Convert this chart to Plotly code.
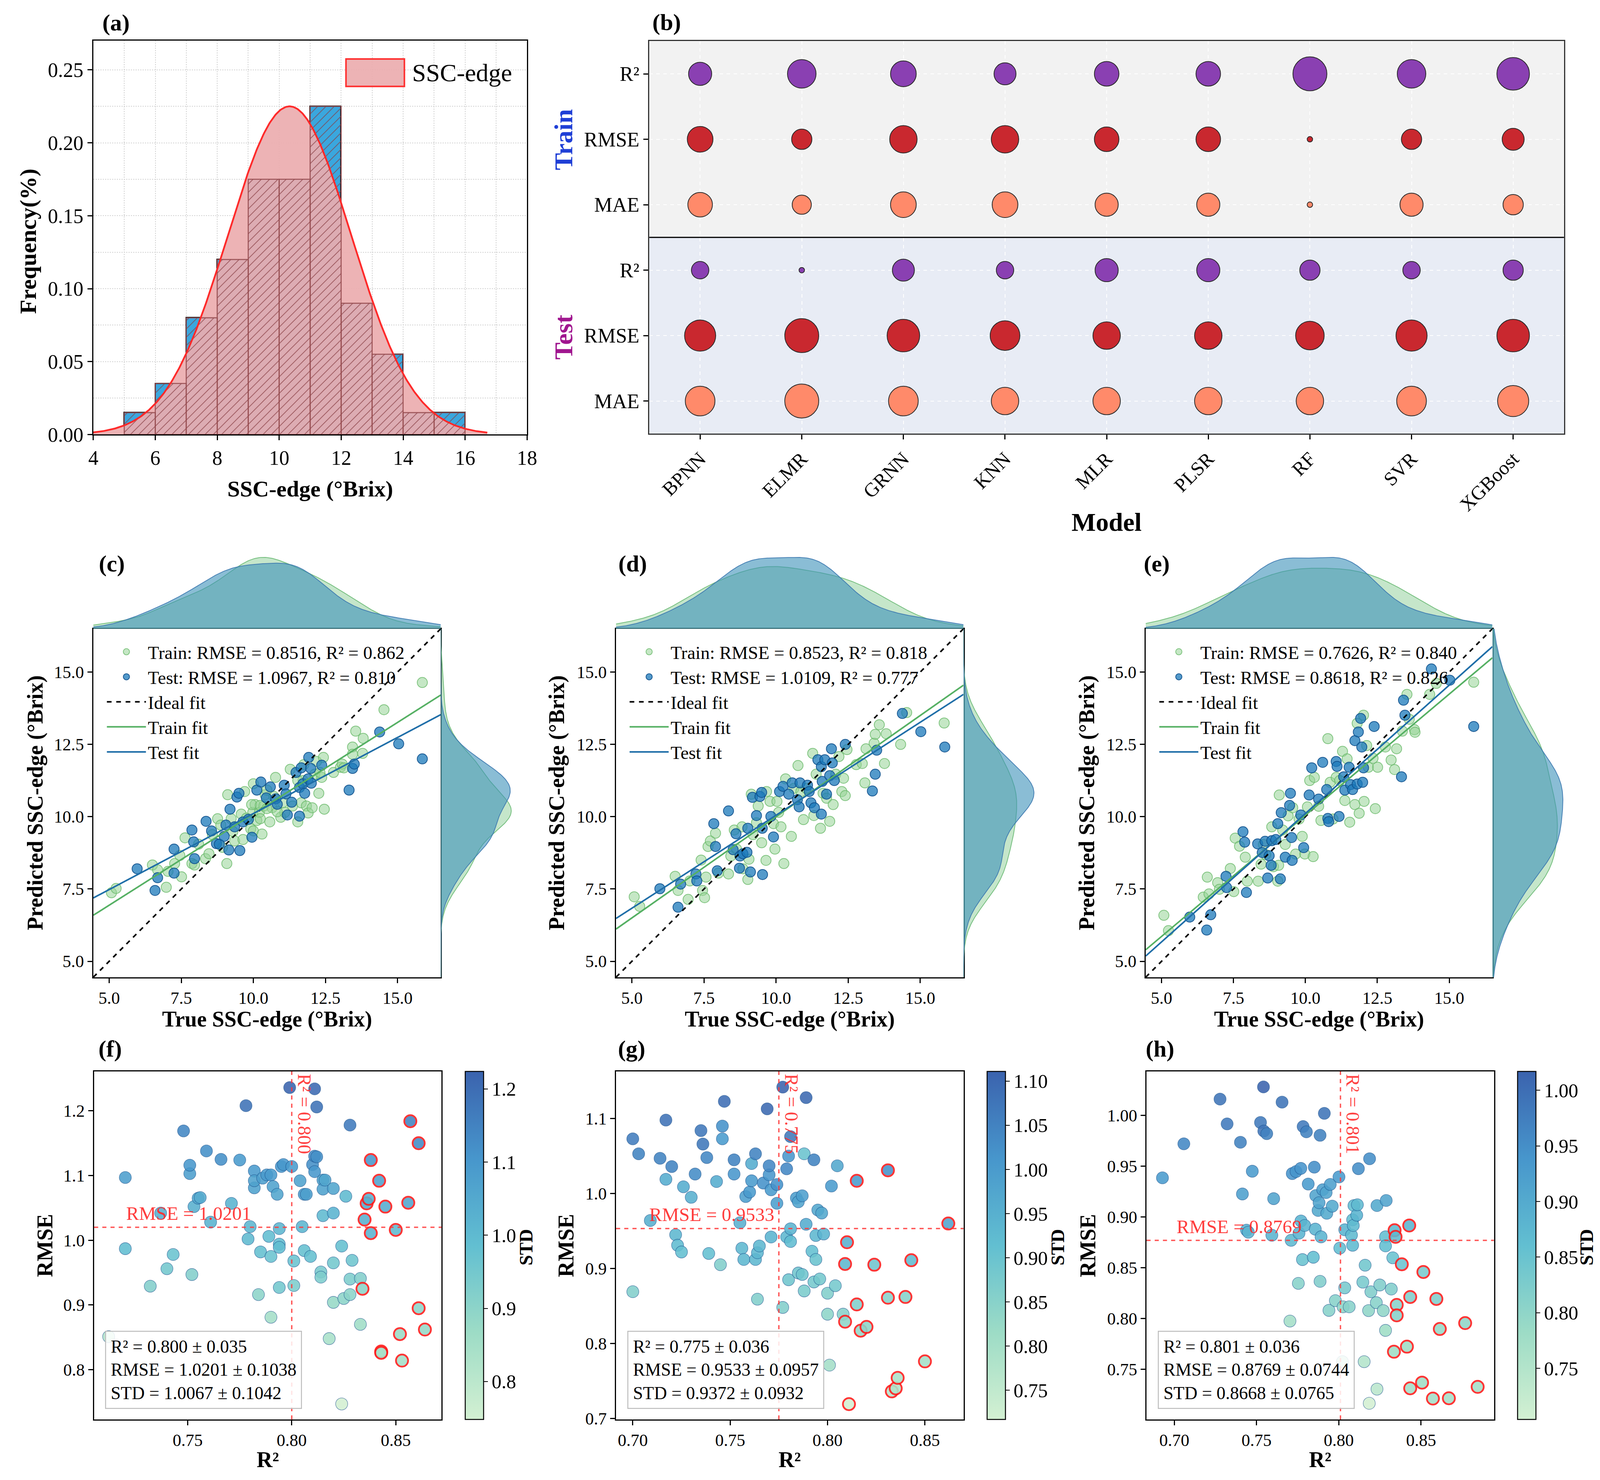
import numpy as np
import plotly.graph_objects as go

W, H = 4104, 3789
SERIF = "Liberation Serif"

# ---------------- (a) SSC-edge distribution ----------------
bin_left = [5, 6, 7, 8, 9, 10, 11, 12, 13, 14, 15]
bin_freq = [0.015, 0.035, 0.080, 0.120, 0.175, 0.175, 0.225, 0.090, 0.055, 0.015, 0.015]

# ---------------- (b) model comparison bubbles (scaled score 0-1) ----------------
models = ["BPNN", "ELMR", "GRNN", "KNN", "MLR", "PLSR", "RF", "SVR", "XGBoost"]
train_r2_score = [0.62, 0.81, 0.71, 0.58, 0.67, 0.67, 1.00, 0.81, 0.95]
train_rmse_score = [0.71, 0.52, 0.77, 0.77, 0.67, 0.67, 0.00, 0.52, 0.58]
train_mae_score = [0.67, 0.48, 0.71, 0.71, 0.62, 0.62, 0.00, 0.62, 0.52]
test_r2_score = [0.42, 0.00, 0.58, 0.42, 0.62, 0.62, 0.52, 0.42, 0.52]
test_rmse_score = [0.90, 1.00, 0.95, 0.85, 0.77, 0.77, 0.81, 0.90, 0.95]
test_mae_score = [0.85, 1.00, 0.85, 0.77, 0.77, 0.77, 0.77, 0.85, 0.90]

# ---------------- (c) true vs predicted ----------------
c_test_true = [5.97, 6.59, 6.68, 7.25, 7.25, 7.87, 7.93, 7.96, 8.36, 8.55, 8.72, 8.82, 8.99, 9.05, 9.15,
               9.19, 9.35, 9.43, 9.50, 9.53, 9.64, 9.83, 9.95, 10.12, 10.26, 10.45, 10.59, 10.78, 10.83,
               11.07, 11.13, 11.18, 11.33, 11.48, 11.60, 11.60, 11.66, 11.72, 11.78, 11.90, 11.92, 11.99,
               12.01, 12.37, 13.32, 13.44, 13.50, 14.38, 15.04, 15.86]
c_test_pred = [8.20, 7.45, 7.89, 8.88, 8.05, 9.54, 9.13, 8.55, 9.84, 9.51, 9.07, 9.05, 9.32, 9.71, 8.85,
               10.26, 9.65, 10.68, 10.81, 8.83, 9.82, 9.91, 9.29, 10.92, 11.20, 10.65, 11.03, 10.62, 10.43,
               11.09, 10.79, 10.06, 10.50, 11.53, 11.01, 10.02, 11.69, 11.14, 10.81, 11.31, 12.05, 11.67,
               11.16, 11.78, 10.92, 11.67, 11.82, 12.93, 12.52, 12.00]
c_train_true = [5.08, 5.24, 6.50, 6.68, 6.98, 7.04, 7.27, 7.45, 7.51, 7.63, 7.87, 7.96, 8.10, 8.34, 8.46,
                8.58, 8.76, 8.87, 8.93, 9.08, 9.11, 9.29, 9.35, 9.58, 9.64, 9.70, 9.76, 9.91, 9.98, 10.00,
                10.06, 10.12, 10.21, 10.24, 10.30, 10.36, 10.41, 10.57, 10.65, 10.71, 10.77, 10.95, 11.01,
                11.09, 11.28, 11.36, 11.54, 11.66, 11.72, 11.84, 11.90, 12.04, 12.13, 12.19, 12.27, 12.37,
                12.43, 12.46, 12.78, 13.02, 13.08, 13.14, 13.44, 13.44, 13.55, 13.79, 13.81, 14.53, 15.86,
                10.00, 11.75, 10.47, 9.23, 9.94, 10.24, 10.47, 10.83, 11.54, 12.31]
c_train_pred = [7.37, 7.52, 8.33, 8.16, 7.56, 8.11, 8.38, 8.66, 7.92, 9.27, 8.38, 8.33, 9.05, 8.55, 8.72,
                9.38, 9.93, 9.71, 8.94, 8.38, 10.76, 9.49, 9.16, 10.09, 9.21, 10.87, 9.95, 9.58, 10.15, 9.51,
                10.42, 9.87, 10.15, 9.93, 9.40, 10.37, 10.76, 9.82, 10.31, 10.70, 11.36, 9.98, 10.48,
                10.15, 11.64, 10.37, 9.82, 10.48, 11.25, 10.37, 10.13, 10.31, 11.47, 11.91, 10.81, 11.36,
                12.05, 10.26, 11.53, 11.71, 11.82, 11.69, 12.41, 12.16, 12.96, 12.19, 12.71, 13.70, 14.64,
                11.14, 11.80, 10.92, 9.93, 10.42, 10.39, 10.28, 10.17, 11.25, 11.53]
c_train_fit = [0.632, 3.78]   # slope, intercept
c_test_fit = [0.526, 4.85]

# ---------------- (d) ----------------
d_test_true = [5.97, 6.60, 6.69, 7.22, 7.25, 7.84, 7.90, 7.96, 8.35, 8.51, 8.61, 8.73, 8.75, 8.85, 8.99,
               9.02, 9.11, 9.18, 9.32, 9.44, 9.50, 9.52, 9.53, 9.82, 9.91, 10.12, 10.24, 10.44, 10.56,
               10.74, 10.80, 10.83, 11.09, 11.15, 11.21, 11.33, 11.45, 11.57, 11.60, 11.57, 11.69, 11.75,
               11.86, 11.92, 11.95, 12.02, 12.40, 13.34, 13.44, 13.49, 14.38, 15.02, 15.85]
d_test_pred = [7.51, 6.87, 7.67, 8.02, 7.78, 9.76, 8.97, 8.13, 10.20, 8.86, 9.41, 8.22, 8.64, 8.72, 8.77,
               9.60, 8.09, 10.67, 10.04, 10.70, 10.84, 9.60, 8.00, 10.01, 9.30, 10.87, 11.05, 10.78, 11.17,
               10.59, 10.34, 11.17, 11.09, 10.87, 10.48, 10.31, 11.97, 11.73, 11.22, 10.09, 11.97, 10.78,
               11.42, 12.35, 11.86, 11.25, 12.50, 10.89, 11.47, 12.30, 13.57, 12.94, 12.41]
d_train_true = [5.08, 5.27, 6.50, 6.60, 6.95, 7.01, 7.40, 7.45, 7.52, 7.57, 7.64, 7.72, 7.90, 8.00, 8.35,
                8.43, 8.55, 8.63, 8.82, 8.85, 9.02, 9.06, 9.14, 9.20, 9.32, 9.38, 9.50, 9.65, 9.67, 9.79,
                9.91, 9.96, 10.03, 10.09, 10.17, 10.27, 10.33, 10.53, 10.62, 10.76, 10.86, 10.95, 11.04,
                11.27, 11.31, 11.39, 11.54, 11.63, 11.75, 11.86, 11.98, 12.07, 12.18, 12.28, 12.34, 12.40,
                12.46, 12.78, 12.99, 13.08, 13.12, 13.40, 13.44, 13.58, 13.76, 13.82, 14.32, 14.53, 15.83]
d_train_pred = [7.23, 6.90, 7.94, 7.45, 7.14, 7.78, 8.50, 7.45, 7.20, 7.91, 8.97, 9.16, 9.43, 8.05, 8.02,
                8.64, 9.54, 8.88, 9.65, 8.20, 7.83, 8.53, 10.78, 9.38, 9.79, 10.37, 9.10, 8.49, 10.87, 10.53,
                9.76, 8.88, 10.53, 10.15, 9.65, 8.38, 11.31, 9.32, 10.98, 11.77, 10.87, 9.90, 10.98, 12.19,
                10.04, 11.47, 9.60, 10.81, 10.64, 9.84, 10.42, 11.47, 12.08, 10.87, 11.33, 10.73, 12.32,
                11.80, 11.84, 11.17, 12.35, 12.54, 12.85, 13.18, 11.84, 12.87, 12.50, 13.60, 13.24]
d_train_fit = [0.700, 3.00]
d_test_fit = [0.643, 3.62]

# ---------------- (e) ----------------
e_test_true = [5.98, 6.57, 6.71, 7.24, 7.26, 7.83, 7.89, 7.95, 8.34, 8.50, 8.60, 8.69, 8.74, 8.81, 8.83,
               8.97, 9.04, 9.13, 9.16, 9.30, 9.45, 9.48, 9.52, 9.54, 9.84, 9.94, 10.13, 10.22, 10.46, 10.60,
               10.74, 10.78, 10.81, 11.07, 11.10, 11.17, 11.33, 11.37, 11.52, 11.57, 11.64, 11.72, 11.80,
               11.84, 11.92, 11.96, 11.99, 12.02, 12.39, 13.34, 13.41, 13.46, 14.38, 15.02, 15.85]
e_test_pred = [6.53, 6.08, 6.61, 7.94, 7.55, 9.48, 9.12, 7.38, 9.06, 8.76, 9.15, 7.88, 8.65, 8.32, 9.17,
               9.21, 9.76, 7.85, 10.14, 8.60, 10.39, 10.81, 9.28, 8.49, 10.06, 8.93, 10.75, 11.69, 10.61,
               11.88, 10.94, 9.94, 9.83, 11.91, 11.74, 10.01, 11.38, 10.92, 11.71, 11.11, 10.94, 12.63,
               11.13, 12.93, 13.40, 12.41, 11.19, 11.69, 13.12, 11.38, 14.03, 13.51, 15.11, 14.72, 13.12]
e_train_true = [5.08, 5.24, 6.45, 6.59, 6.65, 6.95, 7.01, 7.39, 7.51, 7.56, 7.71, 7.91, 7.98, 8.36, 8.46,
                8.54, 8.62, 8.83, 8.89, 9.04, 9.07, 9.09, 9.21, 9.30, 9.40, 9.56, 9.66, 9.78, 9.89, 9.98,
                10.07, 10.15, 10.27, 10.31, 10.46, 10.54, 10.78, 10.86, 10.96, 11.07, 11.19, 11.29, 11.37,
                11.45, 11.54, 11.72, 11.80, 11.87, 12.02, 12.04, 12.13, 12.19, 12.35, 12.43, 12.51, 12.78,
                12.98, 13.10, 13.17, 13.37, 13.53, 13.61, 13.79, 13.81, 14.32, 14.55, 15.85]
e_train_pred = [6.59, 6.06, 7.22, 7.91, 7.33, 7.72, 7.49, 8.21, 7.41, 9.26, 8.98, 8.60, 7.77, 7.77, 8.36,
                9.04, 8.69, 9.65, 8.27, 7.77, 8.32, 10.75, 9.54, 9.04, 10.03, 10.31, 8.71, 9.92, 9.32, 8.71,
                10.34, 11.25, 8.62, 11.36, 10.36, 9.87, 12.70, 11.19, 9.92, 11.36, 11.25, 12.26, 10.56,
                12.00, 9.81, 10.42, 13.23, 10.12, 13.51, 10.53, 12.46, 11.71, 12.02, 10.28, 11.71, 12.41,
                11.96, 11.63, 12.35, 12.96, 14.23, 13.37, 13.01, 12.92, 14.23, 14.61, 14.65]
e_train_fit = [0.838, 1.67]
e_test_fit = [0.888, 1.23]

# ---------------- (f) repeated-split results ----------------
f_r2 = [0.712, 0.720, 0.720, 0.732, 0.737, 0.740, 0.743, 0.748, 0.751, 0.751, 0.752, 0.753, 0.755, 0.756,
        0.759, 0.761, 0.766, 0.771, 0.775, 0.778, 0.779, 0.780, 0.782, 0.782, 0.782, 0.784, 0.785, 0.786,
        0.788, 0.789, 0.790, 0.790, 0.790, 0.791, 0.793, 0.794, 0.794, 0.794, 0.794, 0.795, 0.796, 0.799,
        0.800, 0.801, 0.801, 0.804, 0.805, 0.806, 0.807, 0.806, 0.809, 0.810, 0.811, 0.811, 0.811, 0.812,
        0.812, 0.814, 0.814, 0.815, 0.815, 0.815, 0.816, 0.818, 0.820, 0.820, 0.820, 0.820, 0.824, 0.824,
        0.825, 0.826, 0.828, 0.828, 0.828, 0.829, 0.833, 0.833,
        0.834, 0.835, 0.836, 0.837, 0.838, 0.838, 0.842, 0.843, 0.843, 0.845, 0.850, 0.852, 0.853, 0.856,
        0.857, 0.861, 0.861, 0.864]
f_rmse = [0.851, 1.097, 0.987, 0.929, 1.042, 0.956, 0.978, 1.169, 1.103, 1.116, 0.947, 1.052, 1.065, 1.066,
          1.138, 1.028, 1.125, 1.057, 1.124, 1.208, 1.002, 1.021, 1.081, 1.107, 1.092, 0.916, 0.982, 1.096,
          1.101, 1.006, 0.975, 1.101, 0.881, 1.083, 1.071, 0.994, 0.927, 0.989, 1.018, 1.114, 1.117, 1.236,
          1.114, 0.968, 0.930, 1.092, 1.021, 1.071, 1.071, 0.984, 0.975, 1.117, 1.234, 1.130, 1.106, 1.129,
          1.206, 0.951, 0.943, 1.093, 1.079, 1.038, 1.093, 0.848, 1.080, 1.042, 0.965, 0.904, 0.747, 0.991,
          0.910, 1.068, 1.178, 0.916, 0.940, 0.969, 0.941, 0.870,
          0.925, 1.032, 1.057, 1.064, 1.011, 1.124, 1.092, 0.828, 0.826, 1.052, 1.016, 0.855, 0.814, 1.058,
          1.184, 1.150, 0.895, 0.862]
f_std = [0.82, 1.08, 0.99, 0.92, 1.03, 0.95, 0.97, 1.14, 1.08, 1.10, 0.92, 1.03, 1.05, 1.04,
         1.12, 1.02, 1.12, 1.02, 1.09, 1.19, 1.00, 1.01, 1.07, 1.09, 1.07, 0.90, 0.98, 1.08,
         1.09, 0.99, 0.97, 1.09, 0.85, 1.07, 1.06, 0.99, 0.95, 0.99, 1.01, 1.10, 1.10, 1.224,
         1.09, 0.97, 0.93, 1.07, 1.01, 1.08, 1.08, 0.98, 0.98, 1.12, 1.21, 1.13, 1.10, 1.12,
         1.19, 0.94, 0.93, 1.06, 1.07, 1.00, 1.06, 0.84, 1.06, 1.02, 0.95, 0.88, 0.748, 0.98,
         0.90, 1.00, 1.17, 0.90, 0.93, 0.96, 0.92, 0.86,
         0.90, 1.03, 1.05, 1.03, 1.02, 1.10, 1.07, 0.85, 0.84, 1.04, 1.00, 0.87, 0.85, 1.06,
         1.15, 1.13, 0.90, 0.88]
f_stats = [0.800, 0.035, 1.0201, 0.1038, 1.0067, 0.1042]   # R2 mean/sd, RMSE mean/sd, STD mean/sd

# ---------------- (g) ----------------
g_r2 = [0.700, 0.703, 0.700, 0.709, 0.714, 0.717, 0.717, 0.720, 0.722, 0.723, 0.725, 0.726, 0.730, 0.732,
        0.735, 0.736, 0.738, 0.739, 0.743, 0.745, 0.746, 0.746, 0.747, 0.752, 0.752, 0.755, 0.756, 0.757,
        0.758, 0.760, 0.761, 0.761, 0.763, 0.763, 0.764, 0.764, 0.765, 0.767, 0.769, 0.770, 0.770, 0.771,
        0.771, 0.774, 0.774, 0.777, 0.777, 0.779, 0.779, 0.780, 0.780, 0.781, 0.781, 0.781, 0.784, 0.785,
        0.785, 0.787, 0.787, 0.788, 0.788, 0.789, 0.789, 0.793, 0.793, 0.792, 0.794, 0.794, 0.795, 0.796,
        0.797, 0.798, 0.800, 0.800, 0.801, 0.802, 0.804, 0.805, 0.808,
        0.809, 0.809, 0.810, 0.811, 0.815, 0.815, 0.817, 0.820, 0.824, 0.831, 0.831, 0.833, 0.835, 0.836,
        0.840, 0.843, 0.850, 0.862]
g_rmse = [1.073, 1.053, 0.869, 0.964, 1.047, 1.019, 1.098, 1.036, 0.945, 0.931, 0.922, 1.009, 0.995, 1.026,
          1.084, 1.066, 1.048, 0.920, 1.016, 0.905, 1.090, 1.073, 1.123, 1.045, 1.026, 0.961, 0.927, 0.912,
          0.996, 1.002, 1.040, 1.017, 1.053, 0.912, 0.921, 0.859, 0.930, 1.014, 1.113, 1.025, 1.037, 1.005,
          0.942, 1.012, 0.987, 1.142, 0.848, 1.033, 0.942, 0.885, 1.050, 0.936, 1.076, 0.953, 0.994, 0.989,
          0.894, 0.892, 0.997, 0.870, 1.053, 1.128, 0.959, 1.045, 0.882, 0.923, 0.944, 0.912, 0.978, 0.886,
          0.974, 0.946, 0.839, 0.867, 0.771, 1.010, 0.877, 1.037, 0.839,
          0.906, 0.829, 0.935, 0.719, 0.852, 1.017, 0.817, 0.822, 0.905, 0.861, 1.031, 0.736, 0.740, 0.754,
          0.862, 0.911, 0.776, 0.960]
g_std = [1.06, 1.05, 0.86, 0.95, 1.05, 0.96, 1.08, 1.05, 0.93, 0.92, 0.91, 0.96, 0.95, 1.03,
         1.07, 1.07, 1.04, 0.91, 0.96, 0.86, 1.02, 1.00, 1.09, 1.05, 1.01, 0.95, 0.93, 0.93,
         0.99, 1.00, 0.96, 1.00, 1.05, 0.93, 0.93, 0.86, 0.93, 1.02, 1.10, 1.01, 1.04, 1.00,
         0.94, 1.02, 0.99, 1.111, 0.86, 1.04, 0.93, 0.89, 1.01, 0.92, 1.07, 0.94, 0.99, 0.98,
         0.89, 0.89, 0.99, 0.87, 0.90, 1.10, 0.96, 1.05, 0.88, 0.91, 0.93, 0.90, 0.97, 0.88,
         0.97, 0.94, 0.84, 0.86, 0.80, 1.00, 0.88, 0.97, 0.85,
         0.93, 0.84, 0.95, 0.717, 0.86, 1.00, 0.83, 0.84, 0.89, 0.85, 1.02, 0.77, 0.78, 0.79,
         0.85, 0.92, 0.80, 0.98]
g_stats = [0.775, 0.036, 0.9533, 0.0957, 0.9372, 0.0932]

# ---------------- (h) ----------------
h_r2 = [0.6928, 0.7058, 0.7278, 0.7321, 0.7402, 0.7414, 0.7439, 0.7450, 0.7474, 0.7524, 0.7542, 0.7544,
        0.7562, 0.7593, 0.7604, 0.7655, 0.7703, 0.7710, 0.7717, 0.7740, 0.7754, 0.7758, 0.7769, 0.7770,
        0.7779, 0.7783, 0.7793, 0.7803, 0.7814, 0.7845, 0.7851, 0.7857, 0.7860, 0.7874, 0.7880, 0.7886,
        0.7886, 0.7892, 0.7902, 0.7912, 0.7923, 0.7927, 0.7940, 0.7948, 0.7960, 0.7979, 0.8001, 0.8006,
        0.8022, 0.8026, 0.8036, 0.8036, 0.8063, 0.8077, 0.8084, 0.8084, 0.8088, 0.8092, 0.8109, 0.8113,
        0.8119, 0.8154, 0.8160, 0.8146, 0.8181, 0.8187, 0.8195, 0.8228, 0.8232, 0.8232, 0.8249, 0.8270,
        0.8284, 0.8284, 0.8284, 0.8288, 0.8319, 0.8328, 0.8185,
        0.8335, 0.8339, 0.8345, 0.8352, 0.8352, 0.8383, 0.8414, 0.8428, 0.8434, 0.8434, 0.8506, 0.8514,
        0.8572, 0.8593, 0.8614, 0.8669, 0.8768, 0.8844]
h_rmse = [0.9385, 0.9720, 1.0160, 0.9916, 0.9735, 0.9226, 0.8870, 0.8850, 0.9450, 0.9930, 1.0280, 0.9846,
          0.9820, 0.8820, 0.9180, 1.0130, 0.7975, 0.8770, 0.9427, 0.9447, 0.8346, 0.8840, 0.9478, 0.8960,
          0.8580, 0.9890, 0.8916, 0.9838, 0.9324, 0.8603, 0.9490, 0.8880, 0.9210, 0.9064, 0.9140, 0.9804,
          0.8366, 0.8804, 0.9268, 1.0020, 0.9240, 0.9036, 0.8080, 0.9320, 0.9106, 0.8176, 0.9394, 0.8693,
          0.7575, 0.8115, 0.8302, 0.8874, 0.8115, 0.8821, 0.8721, 0.8972, 0.8916, 0.9112, 0.9017, 0.9120,
          0.9475, 0.7575, 0.8525, 0.8358, 0.8078, 0.9573, 0.8263, 0.8156, 0.7305, 0.9112, 0.8330, 0.8078,
          0.7883, 0.8804, 0.8715, 0.9162, 0.8290, 0.8598, 0.7165,
          0.7673, 0.8869, 0.8804, 0.8134, 0.8031, 0.8534, 0.7723, 0.8916, 0.8212, 0.7313, 0.7369, 0.8458,
          0.7212, 0.8193, 0.7897, 0.7215, 0.7955, 0.7327]
h_std = [0.93, 0.96, 0.99, 0.98, 0.97, 0.92, 0.89, 0.88, 0.93, 0.98, 1.017, 0.99,
         0.97, 0.88, 0.91, 0.99, 0.77, 0.87, 0.94, 0.94, 0.81, 0.88, 0.94, 0.88,
         0.85, 0.98, 0.88, 0.97, 0.93, 0.86, 0.95, 0.88, 0.91, 0.90, 0.91, 0.97,
         0.82, 0.88, 0.92, 0.99, 0.91, 0.90, 0.81, 0.92, 0.90, 0.81, 0.93, 0.86,
         0.76, 0.80, 0.83, 0.88, 0.81, 0.87, 0.87, 0.86, 0.87, 0.86, 0.88, 0.87,
         0.95, 0.75, 0.84, 0.83, 0.80, 0.95, 0.82, 0.81, 0.74, 0.90, 0.82, 0.80,
         0.78, 0.86, 0.86, 0.91, 0.82, 0.85, 0.704,
         0.78, 0.87, 0.87, 0.81, 0.81, 0.85, 0.78, 0.88, 0.82, 0.77, 0.78, 0.83,
         0.77, 0.82, 0.79, 0.77, 0.80, 0.77]
h_stats = [0.801, 0.036, 0.8769, 0.0744, 0.8668, 0.0765]
N_TOP = 18  # best splits outlined in red


def fx(p):
    return p / W


def fy(p):
    return 1 - p / H


def xdom(a, b):
    return [a / W, b / W]


def ydom(top, bottom):
    return [1 - bottom / H, 1 - top / H]


def kde(values, grid):
    v = np.asarray(values, float)
    bw = v.std(ddof=1) * len(v) ** (-0.2)
    z = (grid[:, None] - v[None, :]) / bw
    return np.exp(-0.5 * z ** 2).sum(axis=1) / (len(v) * bw * np.sqrt(2 * np.pi))


box_axis = dict(showline=True, mirror=True, linecolor="black", linewidth=3, ticks="outside",
                ticklen=12, tickwidth=2.5, tickcolor="black", showgrid=False, zeroline=False,
                tickfont=dict(size=44))

fig = go.Figure()
axes = {}
annotations = []
shapes = []


def label(text, x, y, size=57, angle=0, color="black"):
    annotations.append(dict(text=text, x=fx(x), y=fy(y), xref="paper", yref="paper", showarrow=False,
                            xanchor="center", yanchor="middle", textangle=angle,
                            font=dict(size=size, color=color)))


# ================= (a) =================
PINK = "rgba(235,172,175,0.92)"
centers = np.array(bin_left) + 0.5
freq = np.array(bin_freq)
mu = (centers * freq).sum() / freq.sum()
sd = np.sqrt((freq * (centers - mu) ** 2).sum() / freq.sum())
xs = np.linspace(mu - 3.2 * sd, mu + 3.2 * sd, 400)
ys = freq.max() * np.exp(-0.5 * ((xs - mu) / sd) ** 2)

# bar outlines as closed polygons so the hatching can sit above the pink fill
hx, hy = [], []
for left, fr in zip(bin_left, bin_freq):
    hx += [left, left, left + 1, left + 1, left, None]
    hy += [0, fr, fr, 0, 0, None]

fig.add_trace(go.Bar(x=centers, y=bin_freq, width=1, xaxis="x", yaxis="y", showlegend=False,
                     marker=dict(color="#3AA7DE", line=dict(color="black", width=3))))
fig.add_trace(go.Scatter(x=xs, y=ys, mode="lines", fill="tozeroy", fillcolor=PINK,
                         line=dict(width=0), xaxis="x", yaxis="y", showlegend=False))
fig.add_trace(go.Scatter(x=hx, y=hy, mode="lines", fill="toself", fillcolor="rgba(0,0,0,0)",
                         fillpattern=dict(shape="/", fgcolor="rgba(135,60,65,0.8)", bgcolor="rgba(0,0,0,0)",
                                          size=15, solidity=0.12, fillmode="replace"),
                         line=dict(color="rgba(150,75,80,0.9)", width=2.5), xaxis="x", yaxis="y",
                         showlegend=False, hoverinfo="skip"))
fig.add_trace(go.Scatter(x=xs, y=ys, mode="lines", line=dict(color="#FF2A2A", width=4.5),
                         xaxis="x", yaxis="y", showlegend=False))

grid_a = dict(showgrid=True, gridcolor="#d2d2d2", griddash="dot", gridwidth=2)
axes["xaxis"] = dict(box_axis, **grid_a, domain=xdom(220, 1341), anchor="y", range=[4, 18], dtick=2,
                     tick0=4, tickfont=dict(size=52), minor=dict(dtick=1, **grid_a))
axes["yaxis"] = dict(box_axis, **grid_a, domain=ydom(97, 1113), anchor="x", range=[0, 0.27], dtick=0.05,
                     tickformat=".2f", tickfont=dict(size=52), minor=dict(dtick=0.025, **grid_a))
shapes.append(dict(type="rect", xref="paper", yref="paper", x0=fx(873), x1=fx(1024), y0=fy(215), y1=fy(144),
                   fillcolor=PINK, line=dict(color="#FF3030", width=4)))
annotations.append(dict(text="SSC-edge", x=fx(1042), y=fy(180), xref="paper", yref="paper", xanchor="left",
                        yanchor="middle", showarrow=False, font=dict(size=64)))
label("<b>(a)</b>", 279, 50, 60)
label("<b>Frequency(%)</b>", 52, 615, 60, -90)
label("<b>SSC-edge (°Brix)</b>", 780, 1253, 58)

# ================= (b) =================
C_R2, C_RMSE, C_MAE = "#8A40B2", "#C9282F", "#FF8A6A"
rows = [("Test MAE", test_mae_score, C_MAE), ("Test RMSE", test_rmse_score, C_RMSE),
        ("Test R²", test_r2_score, C_R2), ("Train MAE", train_mae_score, C_MAE),
        ("Train RMSE", train_rmse_score, C_RMSE), ("Train R²", train_r2_score, C_R2)]
row_keys = [r[0] for r in rows]
for key, score, col in rows:
    fig.add_trace(go.Scatter(x=models, y=[key] * len(models), mode="markers", xaxis="x2", yaxis="y2",
                             showlegend=False,
                             marker=dict(size=[14 + 73 * s for s in score], sizemode="diameter", color=col,
                                         opacity=1, line=dict(color="#2a2a2a", width=2))))
grid_b = dict(showgrid=True, gridcolor="white", griddash="dash", gridwidth=2)
axes["xaxis2"] = dict(box_axis, **grid_b, domain=xdom(1657, 4021), anchor="y2", type="category",
                      categoryorder="array", categoryarray=models, range=[-0.5, 8.5], tickangle=-45,
                      linecolor="#333333", tickfont=dict(size=50))
axes["yaxis2"] = dict(box_axis, **grid_b, domain=ydom(98, 1111), anchor="x2", type="category",
                      categoryorder="array", categoryarray=row_keys, range=[-0.5, 5.5], tickvals=row_keys,
                      ticktext=[k.split(" ")[1] for k in row_keys], linecolor="#333333",
                      tickfont=dict(size=52))
shapes.append(dict(type="rect", xref="x2 domain", yref="y2", x0=0, x1=1, y0=2.5, y1=5.5, layer="below",
                   fillcolor="#F2F2F2", line=dict(width=0)))
shapes.append(dict(type="rect", xref="x2 domain", yref="y2", x0=0, x1=1, y0=-0.5, y1=2.5, layer="below",
                   fillcolor="#E8ECF5", line=dict(width=0)))
shapes.append(dict(type="line", xref="x2 domain", yref="y2", x0=0, x1=1, y0=2.5, y1=2.5,
                   line=dict(color="black", width=3)))
label("<b>(b)</b>", 1702, 49, 60)
label("<b>Train</b>", 1435, 352, 66, -90, "#1F3FD6")
label("<b>Test</b>", 1435, 862, 66, -90, "#A0168F")
label("<b>Model</b>", 2839, 1339, 66)

# ================= (c)-(e) =================
LIM = [4.45, 16.5]
scatter_panels = [
    dict(tag="(c)", n=3, x0=220, x1=1118, ytx=70, lab=268, leg="legend2",
         tt=c_test_true, tp=c_test_pred, rt=c_train_true, rp=c_train_pred, rf=c_train_fit, tf=c_test_fit,
         rname="Train: RMSE = 0.8516, R² = 0.862", tname="Test: RMSE = 1.0967, R² = 0.810"),
    dict(tag="(d)", n=6, x0=1571, x1=2469, ytx=1418, lab=1614, leg="legend3",
         tt=d_test_true, tp=d_test_pred, rt=d_train_true, rp=d_train_pred, rf=d_train_fit, tf=d_test_fit,
         rname="Train: RMSE = 0.8523, R² = 0.818", tname="Test: RMSE = 1.0109, R² = 0.777"),
    dict(tag="(e)", n=9, x0=2940, x1=3836, ytx=2788, lab=2969, leg="legend4",
         tt=e_test_true, tp=e_test_pred, rt=e_train_true, rp=e_train_pred, rf=e_train_fit, tf=e_test_fit,
         rname="Train: RMSE = 0.7626, R² = 0.840", tname="Test: RMSE = 0.8618, R² = 0.826"),
]
G_FILL, G_LINE = "rgba(140,205,150,0.5)", "rgba(105,185,115,0.9)"
B_FILL, B_LINE = "rgba(60,145,185,0.6)", "rgba(60,120,175,0.9)"
grid = np.linspace(LIM[0], LIM[1], 300)
for p in scatter_panels:
    n = p["n"]
    xm, ym = f"x{n}", f"y{n}"
    xt, yt = f"x{n + 1}", f"y{n + 1}"
    xr, yr = f"x{n + 2}", f"y{n + 2}"
    top_g, top_b = kde(p["rt"], grid), kde(p["tt"], grid)
    right_g, right_b = kde(p["rp"], grid), kde(p["tp"], grid)
    fig.add_trace(go.Scatter(x=grid, y=top_g, mode="lines", fill="tozeroy", fillcolor=G_FILL,
                             line=dict(color=G_LINE, width=2), xaxis=xt, yaxis=yt, showlegend=False))
    fig.add_trace(go.Scatter(x=grid, y=top_b, mode="lines", fill="tozeroy", fillcolor=B_FILL,
                             line=dict(color=B_LINE, width=2), xaxis=xt, yaxis=yt, showlegend=False))
    fig.add_trace(go.Scatter(x=right_g, y=grid, mode="lines", fill="tozerox", fillcolor=G_FILL,
                             line=dict(color=G_LINE, width=2), xaxis=xr, yaxis=yr, showlegend=False))
    fig.add_trace(go.Scatter(x=right_b, y=grid, mode="lines", fill="tozerox", fillcolor=B_FILL,
                             line=dict(color=B_LINE, width=2), xaxis=xr, yaxis=yr, showlegend=False))

    fig.add_trace(go.Scatter(x=p["rt"], y=p["rp"], mode="markers", name=p["rname"], legend=p["leg"],
                             xaxis=xm, yaxis=ym,
                             marker=dict(size=26, color="rgba(150,212,150,0.55)",
                                         line=dict(color="rgba(105,185,105,0.8)", width=2))))
    fig.add_trace(go.Scatter(x=p["tt"], y=p["tp"], mode="markers", name=p["tname"], legend=p["leg"],
                             xaxis=xm, yaxis=ym,
                             marker=dict(size=26, color="rgba(25,120,185,0.75)",
                                         line=dict(color="rgba(15,80,140,0.9)", width=2))))
    fig.add_trace(go.Scatter(x=LIM, y=LIM, mode="lines", name="Ideal fit", legend=p["leg"], xaxis=xm, yaxis=ym,
                             line=dict(color="black", width=4, dash="dash")))
    lx = np.array(LIM)
    fig.add_trace(go.Scatter(x=lx, y=p["rf"][0] * lx + p["rf"][1], mode="lines", name="Train fit",
                             legend=p["leg"], xaxis=xm, yaxis=ym, line=dict(color="#55B063", width=4)))
    fig.add_trace(go.Scatter(x=lx, y=p["tf"][0] * lx + p["tf"][1], mode="lines", name="Test fit",
                             legend=p["leg"], xaxis=xm, yaxis=ym, line=dict(color="#1F6EA8", width=4)))

    axes[f"xaxis{n}"] = dict(box_axis, domain=xdom(p["x0"], p["x1"]), anchor=ym, range=LIM, dtick=2.5,
                             tick0=0, tickformat=".1f")
    axes[f"yaxis{n}"] = dict(box_axis, domain=ydom(1614, 2513), anchor=xm, range=LIM, dtick=2.5, tick0=0,
                             tickformat=".1f")
    axes[f"xaxis{n + 1}"] = dict(domain=xdom(p["x0"], p["x1"]), anchor=yt, range=LIM, visible=False)
    axes[f"yaxis{n + 1}"] = dict(domain=ydom(1428, 1614), anchor=xt,
                                 range=[0, 1.01 * max(top_g.max(), top_b.max())], visible=False)
    axes[f"xaxis{n + 2}"] = dict(domain=xdom(p["x1"], p["x1"] + 184), anchor=yr,
                                 range=[0, 1.01 * max(right_g.max(), right_b.max())], visible=False)
    axes[f"yaxis{n + 2}"] = dict(domain=ydom(1614, 2513), anchor=xr, range=LIM, visible=False)
    axes[p["leg"]] = dict(x=fx(p["x0"] + 30), y=fy(1636), xanchor="left", yanchor="top",
                          bgcolor="rgba(0,0,0,0)", font=dict(size=47), itemwidth=100, tracegroupgap=0)

    cx = (p["x0"] + p["x1"]) / 2
    label(f"<b>{p['tag']}</b>", p["lab"], 1446, 60)
    label("<b>True SSC-edge (°Brix)</b>", cx, 2622, 56)
    label("<b>Predicted SSC-edge (°Brix)</b>", p["ytx"], 2063, 56, -90)

# ================= (f)-(h) =================
STD_SCALE = [[0.0, "#d3f0d2"], [0.25, "#9ddcc6"], [0.5, "#62bfd1"], [0.75, "#4796cc"], [1.0, "#3b63ae"]]
split_panels = [
    dict(tag="(f)", n=12, x0=222, x1=1120, cb=1181, ytx=95, stx=1338, lab=264,
         r2=f_r2, rmse=f_rmse, std=f_std, st=f_stats, xr=[0.705, 0.872], yr=[0.723, 1.261],
         ydt=0.1, yfmt=".1f", cdt=0.1, cfmt=".1f"),
    dict(tag="(g)", n=13, x0=1571, x1=2469, cb=2530, ytx=1442, stx=2712, lab=1611,
         r2=g_r2, rmse=g_rmse, std=g_std, st=g_stats, xr=[0.6914, 0.8698], yr=[0.6985, 1.163],
         ydt=0.1, yfmt=".1f", cdt=0.05, cfmt=".2f"),
    dict(tag="(h)", n=14, x0=2942, x1=3840, cb=3901, ytx=2791, stx=4079, lab=2977,
         r2=h_r2, rmse=h_rmse, std=h_std, st=h_stats, xr=[0.6831, 0.8943], yr=[0.7006, 1.0433],
         ydt=0.05, yfmt=".2f", cdt=0.05, cfmt=".2f"),
]
for p in split_panels:
    n = p["n"]
    xa, ya = f"x{n}", f"y{n}"
    r2 = np.array(p["r2"])
    top = np.zeros(len(r2), bool)
    top[np.argsort(r2)[-N_TOP:]] = True
    fig.add_trace(go.Scatter(
        x=p["r2"], y=p["rmse"], mode="markers", xaxis=xa, yaxis=ya, showlegend=False,
        marker=dict(size=31, color=p["std"], colorscale=STD_SCALE, opacity=0.88,
                    line=dict(color=["#FF1A1A" if t else "rgba(25,80,140,0.75)" for t in top],
                              width=[4.5 if t else 1.3 for t in top]),
                    colorbar=dict(x=fx(p["cb"]), xanchor="left", y=fy(3654), yanchor="bottom",
                                  len=(3654 - 2756) / H, lenmode="fraction", thickness=47, xpad=0, ypad=0,
                                  outlinewidth=2.5, outlinecolor="black", ticks="outside", ticklen=10,
                                  tickwidth=2, tickcolor="black", dtick=p["cdt"], tickformat=p["cfmt"],
                                  tickfont=dict(size=50)))))
    axes[f"xaxis{n}"] = dict(box_axis, domain=xdom(p["x0"], p["x1"]), anchor=ya, range=p["xr"], dtick=0.05,
                             tick0=0, tickformat=".2f")
    axes[f"yaxis{n}"] = dict(box_axis, domain=ydom(2756, 3654), anchor=xa, range=p["yr"], dtick=p["ydt"],
                             tick0=0, tickformat=p["yfmt"])
    r2m, r2s, rm, rs, sm, ss = p["st"]
    dash = dict(color="rgba(255,55,55,0.85)", width=3.5, dash="dash")
    shapes.append(dict(type="line", xref=xa, yref=f"{ya} domain", x0=r2m, x1=r2m, y0=0, y1=1, line=dash))
    shapes.append(dict(type="line", xref=f"{xa} domain", yref=ya, x0=0, x1=1, y0=rm, y1=rm, line=dash))
    annotations.append(dict(text=f"R² = {r2m:.3f}", x=r2m, y=1, xref=xa, yref=f"{ya} domain", xanchor="left",
                            yanchor="top", xshift=4, yshift=-4, textangle=90, showarrow=False,
                            font=dict(size=48, color="rgba(255,40,40,0.9)")))
    annotations.append(dict(text=f"RMSE = {rm:.4f}", x=r2.min() + 0.008, y=rm, xref=xa, yref=ya,
                            xanchor="left", yanchor="bottom", yshift=6, showarrow=False,
                            font=dict(size=49, color="rgba(255,40,40,0.9)")))
    annotations.append(dict(text=f"R² = {r2m:.3f} ± {r2s:.3f}<br>RMSE = {rm:.4f} ± {rs:.4f}<br>"
                                 f"STD = {sm:.4f} ± {ss:.4f}",
                            x=0.032, y=0.03, xref=f"{xa} domain", yref=f"{ya} domain", xanchor="left",
                            yanchor="bottom", align="left", showarrow=False, borderpad=12,
                            bordercolor="#bdbdbd", borderwidth=2.5, bgcolor="rgba(255,255,255,0.85)",
                            font=dict(size=46)))
    cx = (p["x0"] + p["x1"]) / 2
    label(f"<b>{p['tag']}</b>", p["lab"], 2698, 60)
    label("<b>R²</b>", cx, 3758, 56)
    label("<b>RMSE</b>", p["ytx"], 3205, 56, -90)
    label("<b>STD</b>", p["stx"], 3210, 48, -90)

fig.update_layout(
    width=W, height=H, margin=dict(l=0, r=0, t=0, b=0),
    paper_bgcolor="white", plot_bgcolor="white",
    font=dict(family=SERIF, size=44, color="black"),
    showlegend=True, bargap=0, barmode="overlay",
    annotations=annotations, shapes=shapes,
    **axes,
)

fig.write_html("out.html")
